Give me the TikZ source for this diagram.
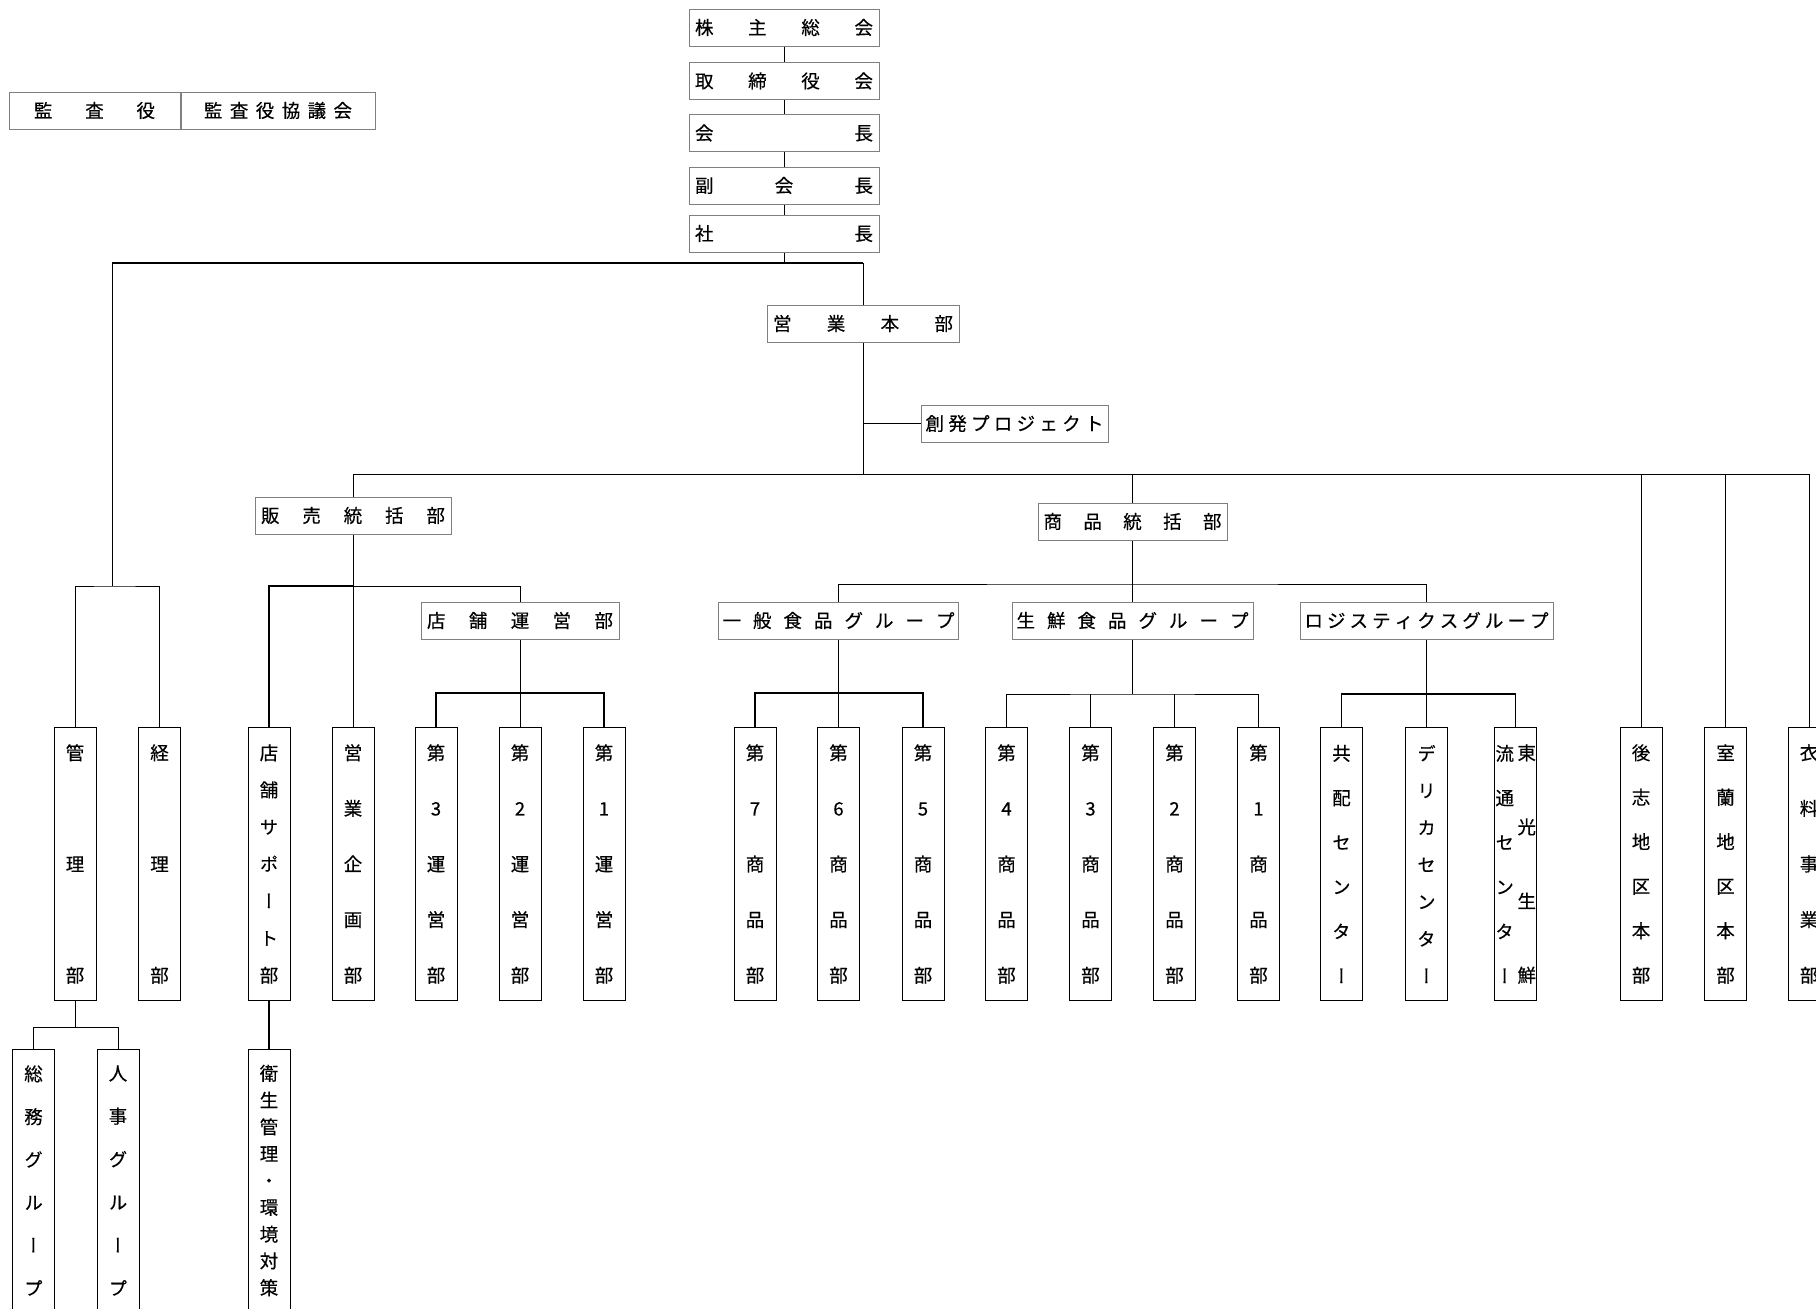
\documentclass[tikz,border=0pt]{standalone}
\usepackage{fontspec}
\newfontfamily\jp[FakeBold=0.4]{Noto Sans CJK JP}
\newfontfamily\jpv[RawFeature=+vert,FakeBold=0.4]{Noto Sans CJK JP}
\def\vcharsA#1{\ifx#1\relax\else\par\vfill #1\expandafter\vcharsA\fi}
\def\vcharsB#1{#1\vcharsA}
\newcommand\vchars[1]{\vcharsB#1\relax}
\newcommand\vcol[2]{\parbox[c][#1pt][s]{20pt}{\centering\vchars{#2}}}
\def\hcharsA#1{\ifx#1\relax\else\hfill #1\expandafter\hcharsA\fi}
\def\hcharsB#1{#1\hcharsA}
\newcommand\hs[2]{\makebox[#1pt][s]{\hcharsB#2\relax}}
\begin{document}
\begin{tikzpicture}[x=1pt,y=-1pt,
 hb/.style={draw=black!50, line width=1pt, inner sep=0pt, minimum height=37pt, font=\jp\fontsize{18.5}{22}\selectfont},
 vb/.style={draw=black, line width=1pt, inner sep=0pt, minimum width=42pt, minimum height=273pt, anchor=north, font=\jpv\fontsize{18.5}{22}\selectfont},
 vbl/.style={vb, minimum height=262pt},
 ln/.style={line width=1pt},
 lnb/.style={line width=1.7pt},
 busline/.style={line width=2.4pt}]
\useasboundingbox (0,0) rectangle (1816,1309);
\clip (0,0) rectangle (1816,1309);

% top chain
\node[hb, minimum width=190pt] (kabu) at (784,27.5) {\hs{178}{株主総会}};
\node[hb, minimum width=190pt] (tori) at (784,81) {\hs{178}{取締役会}};
\node[hb, minimum width=190pt] (kaicho) at (784,133) {\hs{178}{会長}};
\node[hb, minimum width=190pt] (fuku) at (784,185.5) {\hs{178}{副会長}};
\node[hb, minimum width=190pt] (shacho) at (784,233.5) {\hs{178}{社長}};

% audit
\node[hb, minimum width=171pt] (kansa) at (94.5,110.5) {\hs{121}{監査役}};
\node[hb, minimum width=194pt, anchor=west] (kyogi) at (kansa.east) {\hs{148}{監査役協議会}};

% middle level
\node[hb, minimum width=192pt] (eigyo) at (863,323.5) {\hs{180}{営業本部}};
\node[hb, minimum width=187pt] (sohatsu) at (1014.5,423.5) {\hs{178}{創発プロジェクト}};
\node[hb, minimum width=196pt] (hanbai) at (353,515.5) {\hs{184}{販売統括部}};
\node[hb, minimum width=189pt] (shohin) at (1132.5,521.5) {\hs{178}{商品統括部}};
\node[hb, minimum width=198pt] (tenun) at (520,620.5) {\hs{186}{店舗運営部}};
\node[hb, minimum width=240pt] (ippan) at (838.5,620.5) {\hs{232}{一般食品グループ}};
\node[hb, minimum width=241pt] (seisen) at (1132.5,620.5) {\hs{232}{生鮮食品グループ}};
\node[hb, minimum width=253pt] (logi) at (1426.5,620.5) {\hs{244}{ロジスティクスグループ}};

% vertical boxes
\node[vb] (kanri) at (75,727) {\vcol{238}{管理部}};
\node[vb] (keiri) at (159.5,727) {\vcol{238}{経理部}};
\node[vb] (tensup) at (269,727) {\vcol{238}{店舗サポート部}};
\node[vb] (eikaku) at (353,727) {\vcol{238}{営業企画部}};
\node[vb] (un3) at (436,727) {\vcol{238}{第3運営部}};
\node[vb] (un2) at (520,727) {\vcol{238}{第2運営部}};
\node[vb] (un1) at (604,727) {\vcol{238}{第1運営部}};
\node[vb] (s7) at (755,727) {\vcol{238}{第7商品部}};
\node[vb] (s6) at (838.5,727) {\vcol{238}{第6商品部}};
\node[vb] (s5) at (923,727) {\vcol{238}{第5商品部}};
\node[vb] (s4) at (1006.5,727) {\vcol{238}{第4商品部}};
\node[vb] (s3) at (1090.5,727) {\vcol{238}{第3商品部}};
\node[vb] (s2) at (1174.5,727) {\vcol{238}{第2商品部}};
\node[vb] (s1) at (1258.5,727) {\vcol{238}{第1商品部}};
\node[vb] (kyohai) at (1341.5,727) {\vcol{238}{共配センター}};
\node[vb] (delica) at (1426.5,727) {\vcol{238}{デリカセンター}};
\node[vb] (toko) at (1515.5,727) {\parbox[c][238pt][s]{18pt}{\centering\vchars{流通センター}}\hspace{4pt}\parbox[c][238pt][s]{18pt}{\centering\vchars{東光生鮮}}};
\node[vb] (shiri) at (1641,727) {\vcol{238}{後志地区本部}};
\node[vb] (muro) at (1725.5,727) {\vcol{238}{室蘭地区本部}};
\node[vb] (iryo) at (1809,727) {\vcol{238}{衣料事業部}};

% lowest level (cut off)
\node[vbl] (somu) at (33.5,1049) {\vcol{230}{総務グループ}};
\node[vbl] (jinji) at (118,1049) {\vcol{230}{人事グループ}};
\node[vbl] (eisei) at (269,1049) {\vcol{230}{衛生管理・環境対策}};

% coordinates of buses
\coordinate (b1L) at (112,263);
\coordinate (b1R) at (863,263);
\coordinate (b2) at (112,586);
\coordinate (b3L) at (353,474);
\coordinate (b3R) at (1809,474);
\coordinate (b4) at (353,586);
\coordinate (b5) at (520,693);
\coordinate (b6) at (1132.5,584);
\coordinate (b7) at (838.5,693);
\coordinate (b8) at (1132.5,694);
\coordinate (b9) at (1426.5,694);
\coordinate (b10) at (75,1027);

% top chain connectors
\draw[ln] (kabu.south) -- (tori.north);
\draw[ln] (tori.south) -- (kaicho.north);
\draw[ln] (kaicho.south) -- (fuku.north);
\draw[ln] (fuku.south) -- (shacho.north);
\draw[ln] (shacho.south) -- (shacho.south |- b1L);
\draw[busline] (b1L) -- (b1R);
\draw[ln] (b1R) -- (eigyo.north);

% left branch
\draw[ln] (b1L) -- (b2);
\draw[ln] (kanri.north) |- (b2) -| (keiri.north);
\draw[ln] (kanri.south) -- (b10);
\draw[ln] (somu.north) |- (b10) -| (jinji.north);

% eigyo
\draw[ln] (eigyo.south) -- (eigyo.south |- b3L);
\draw[ln] (sohatsu.west) -- (sohatsu.west -| eigyo.south);
\draw[ln] (b3L) -- (b3R);
\draw[ln] (b3L) -- (hanbai.north);
\draw[ln] (shohin.north) -- (shohin.north |- b3L);
\draw[ln] (shiri.north) -- (shiri.north |- b3L);
\draw[ln] (muro.north) -- (muro.north |- b3L);
\draw[ln] (b3R) -- (iryo.north);

% hanbai
\draw[ln] (hanbai.south) -- (eikaku.north);
\draw[lnb] (tensup.north) |- (b4);
\draw[ln] (b4) -| (tenun.north);
\draw[lnb] (tensup.south) -- (eisei.north);
\draw[ln] (tenun.south) -- (un2.north);
\draw[lnb] (un3.north) |- (b5) -| (un1.north);

% shohin
\draw[ln] (shohin.south) -- (seisen.north);
\draw[ln] (ippan.north) |- (b6) -| (logi.north);
\draw[ln] (ippan.south) -- (s6.north);
\draw[lnb] (s7.north) |- (b7) -| (s5.north);
\draw[ln] (seisen.south) -- (b8);
\draw[ln] (s4.north) |- (b8) -| (s1.north);
\draw[ln] (s3.north) -- (s3.north |- b8);
\draw[lnb] (s2.north) -- (s2.north |- b8);
\draw[ln] (logi.south) -- (delica.north);
\draw[lnb] (kyohai.north) |- (b9) -| (toko.north);
\end{tikzpicture}
\end{document}
